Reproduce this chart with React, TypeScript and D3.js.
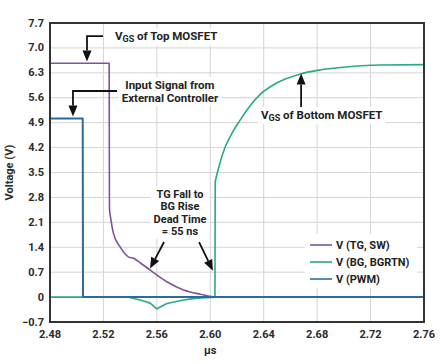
import { useEffect, useRef } from "react";
import * as d3 from "d3";

// V(TG, SW)
const tgTime = [2.48, 2.5243, 2.5245, 2.5255, 2.5275, 2.5325, 2.5387, 2.5425, 2.548, 2.555, 2.5675, 2.58, 2.5925, 2.6025, 2.76];
const tgVolt = [6.57, 6.57, 2.5, 2.2, 1.79, 1.41, 1.13, 1.09, 0.95, 0.76, 0.43, 0.2, 0.08, 0.01, 0];

// V(BG, BGRTN) - dip part is drawn straight, the rise is smoothed
const bgTime = [2.48, 2.538, 2.5475, 2.555, 2.56, 2.5675, 2.58, 2.59, 2.6, 2.6035, 2.6037, 2.605, 2.6075, 2.611, 2.6165, 2.6225, 2.63, 2.6375, 2.65, 2.6675, 2.68, 2.6975, 2.7275, 2.76];
const bgVolt = [0, 0, -0.08, -0.17, -0.33, -0.18, -0.08, -0.03, -0.01, 0, 3.25, 3.45, 3.8, 4.2, 4.62, 4.98, 5.38, 5.7, 6.02, 6.27, 6.37, 6.45, 6.52, 6.53];

// V(PWM)
const pwmTime = [2.48, 2.5045, 2.5047, 2.76];
const pwmVolt = [5.02, 5.02, 0, 0];

const xTicks = [2.48, 2.52, 2.56, 2.6, 2.64, 2.68, 2.72, 2.76];
const yTicks = [-0.7, 0, 0.7, 1.4, 2.1, 2.8, 3.5, 4.2, 4.9, 5.6, 6.3, 7.0, 7.7];

const seriesInfo = [
  { label: "V (TG, SW)", color: "#7d52a1", time: tgTime, volt: tgVolt, width: 1.6, split: 1 },
  { label: "V (BG, BGRTN)", color: "#2aa888", time: bgTime, volt: bgVolt, width: 1.6, split: 10 },
  { label: "V (PWM)", color: "#2a6b9c", time: pwmTime, volt: pwmVolt, width: 2, split: 3 },
];

const font = "Roboto, 'DejaVu Sans', sans-serif";

function App() {
  const ref = useRef<SVGSVGElement>(null);
  const width = 446;
  const height = 364;
  const margin = { top: 23, right: 22, bottom: 42, left: 50 };
  const innerWidth = width - margin.left - margin.right;
  const innerHeight = height - margin.top - margin.bottom;

  useEffect(() => {
    const svg = d3.select(ref.current);
    svg.selectAll("*").remove();

    const x = d3.scaleLinear().domain([2.48, 2.76]).range([margin.left, margin.left + innerWidth]);
    const y = d3.scaleLinear().domain([-0.7, 7.7]).range([margin.top + innerHeight, margin.top]);

    // grid
    const grid = svg.append("g").attr("stroke", "#d4d4d4").attr("stroke-width", 1);
    grid.selectAll(".gx").data(xTicks).join("line")
      .attr("x1", d => x(d)).attr("x2", d => x(d))
      .attr("y1", margin.top).attr("y2", margin.top + innerHeight);
    grid.selectAll(".gy").data(yTicks).join("line")
      .attr("y1", d => y(d)).attr("y2", d => y(d))
      .attr("x1", margin.left).attr("x2", margin.left + innerWidth);

    // series: straight up to `split`, smooth after it
    seriesInfo.forEach(s => {
      const pts = s.time.map((t, i) => [x(t), y(s.volt[i])] as [number, number]);
      let d = d3.line()(pts.slice(0, s.split + 1)) || "";
      const rest = pts.slice(s.split);
      if (rest.length > 1) {
        d += (d3.line().curve(d3.curveMonotoneX)(rest) || "").replace(/^M/, "L");
      }
      svg.append("path")
        .attr("d", d)
        .attr("fill", "none")
        .attr("stroke", s.color)
        .attr("stroke-width", s.width)
        .attr("stroke-linejoin", "round");
    });

    // frame
    svg.append("rect")
      .attr("x", margin.left).attr("y", margin.top)
      .attr("width", innerWidth).attr("height", innerHeight)
      .attr("fill", "none").attr("stroke", "#333").attr("stroke-width", 2);

    // tick labels
    svg.append("g").selectAll("text").data(yTicks).join("text")
      .attr("x", margin.left - 6).attr("y", d => y(d))
      .attr("text-anchor", "end").attr("dominant-baseline", "central")
      .style("font", `bold 11px ${font}`).attr("fill", "#2b2b2b")
      .text(d => (d === 0 ? "0" : d3.format(".1f")(d)));
    svg.append("g").selectAll("text").data(xTicks).join("text")
      .attr("x", d => x(d)).attr("y", margin.top + innerHeight + 12)
      .attr("text-anchor", "middle").attr("dominant-baseline", "central")
      .style("font", `bold 11px ${font}`).attr("fill", "#2b2b2b")
      .text(d => d3.format(".2f")(d));

    svg.append("text")
      .attr("x", x(2.6)).attr("y", 350)
      .attr("text-anchor", "middle").attr("dominant-baseline", "central")
      .style("font", `bold 11px ${font}`).attr("fill", "#2b2b2b")
      .text("µs");
    svg.append("text")
      .attr("transform", `translate(9, ${y(3.5)}) rotate(-90)`)
      .attr("text-anchor", "middle").attr("dominant-baseline", "central")
      .style("font", `bold 11px ${font}`).attr("fill", "#2b2b2b")
      .text("Voltage (V)");

    // annotations
    const addArrow = (pts: [number, number][]) => {
      const p = pts.map(([t, v]) => [x(t), y(v)] as [number, number]);
      const [a, b] = [p[p.length - 2], p[p.length - 1]];
      const ang = Math.atan2(b[1] - a[1], b[0] - a[0]);
      const len = 11, half = 4.5;
      const base: [number, number] = [b[0] - len * Math.cos(ang), b[1] - len * Math.sin(ang)];
      const shaft = p.slice(0, -1).concat([base]);
      svg.append("path").attr("d", d3.line()(shaft)).attr("fill", "none")
        .attr("stroke", "#111").attr("stroke-width", 1.8);
      svg.append("path")
        .attr("d", d3.line()([
          b,
          [base[0] + half * Math.sin(ang), base[1] - half * Math.cos(ang)],
          [base[0] - half * Math.sin(ang), base[1] + half * Math.cos(ang)],
        ]) + "Z")
        .attr("fill", "#111");
    };

    const addLabel = (lines: (string | [string, string, string])[], t: number, v: number, anchor: string, gap: number, size: number) => {
      const g = svg.append("g");
      const bg = g.append("rect").attr("fill", "#fff");
      lines.forEach((ln, i) => {
        const txt = g.append("text")
          .attr("x", x(t)).attr("y", y(v) + i * gap)
          .attr("text-anchor", anchor).attr("dominant-baseline", "central")
          .style("font", `bold ${size}px ${font}`).attr("fill", "#222");
        if (typeof ln === "string") txt.text(ln);
        else {
          txt.append("tspan").text(ln[0]);
          txt.append("tspan").attr("font-size", "9px").attr("dy", 3).text(ln[1]);
          txt.append("tspan").attr("dy", -3).text(ln[2]);
        }
      });
      const bb = (g.node() as SVGGElement).getBBox();
      bg.attr("x", bb.x - 3).attr("y", bb.y - 1).attr("width", bb.width + 6).attr("height", bb.height + 2);
    };

    addArrow([[2.5197, 7.33], [2.5077, 7.33], [2.5077, 6.62]]);
    addLabel([["V", "GS", " of Top MOSFET"]], 2.5287, 7.33, "start", 0, 11.5);

    addArrow([[2.5302, 5.79], [2.4972, 5.79], [2.4972, 5.07]]);
    addLabel(["Input Signal from", "External Controller"], 2.5698, 5.96, "middle", 13, 11.5);

    addArrow([[2.668, 5.34], [2.668, 6.28]]);
    addLabel([["V", "GS", " of Bottom MOSFET"]], 2.638, 5.11, "start", 0, 11.5);

    addLabel(["TG Fall to", "BG Rise", "Dead Time", "= 55 ns"], 2.5773, 2.88, "middle", 12.3, 11);
    addArrow([[2.5654, 1.547], [2.5549, 0.8]]);
    addArrow([[2.5916, 1.547], [2.602, 0.74]]);

    // legend
    const lg = svg.append("g");
    lg.append("rect").attr("x", 305).attr("y", 234).attr("width", 112).attr("height", 54).attr("fill", "#fff");
    seriesInfo.forEach((s, i) => {
      const yy = 245 + i * 17;
      lg.append("line").attr("x1", 310).attr("x2", 332).attr("y1", yy).attr("y2", yy)
        .attr("stroke", s.color).attr("stroke-width", 1.6);
      lg.append("text").attr("x", 336).attr("y", yy)
        .attr("dominant-baseline", "central")
        .style("font", `bold 11px ${font}`).attr("fill", "#222")
        .text(s.label);
    });
  }, []);

  return (
    <svg ref={ref} width={width} height={height} style={{ position: "absolute", left: 0, top: 0, background: "#fff" }} />
  );
}

export default App;
